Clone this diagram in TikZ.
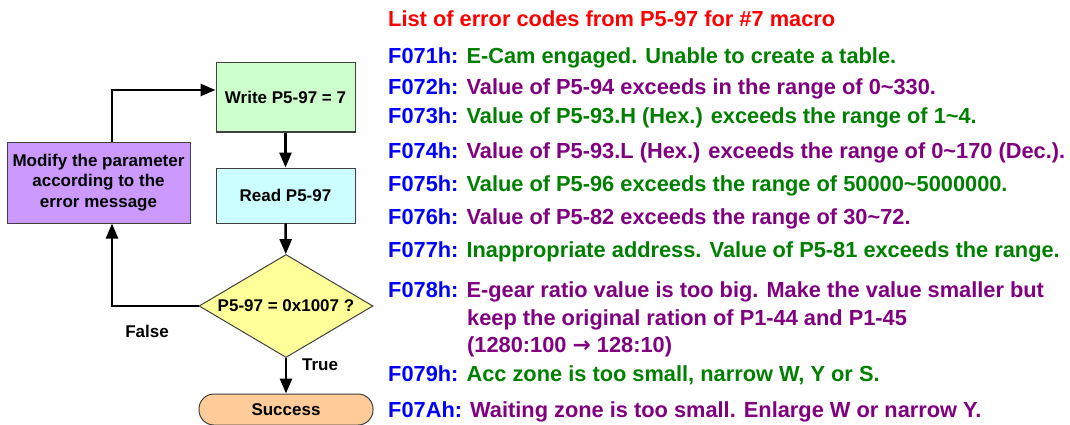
\documentclass[tikz,border=0pt]{standalone}
\usepackage{fontspec}
\setmainfont{Liberation Sans}
\newfontfamily\dejavu{DejaVu Sans}
\usetikzlibrary{arrows.meta,shapes.geometric}
\definecolor{writeg}{HTML}{CCFFCC}
\definecolor{readc}{HTML}{CCFFFF}
\definecolor{modp}{HTML}{CC99FF}
\definecolor{decy}{HTML}{FFFF99}
\definecolor{succo}{HTML}{FFCC99}
\definecolor{codeblue}{HTML}{0000FF}
\definecolor{tgreen}{HTML}{008000}
\definecolor{tpurple}{HTML}{800080}
\definecolor{tred}{HTML}{FF0000}
\definecolor{edge}{HTML}{404040}
\newcommand{\cd}[1]{{\color{codeblue}#1}}
\newcommand{\tg}[1]{{\color{tgreen}#1}}
\newcommand{\tp}[1]{{\color{tpurple}#1}}
\newcommand{\tl}{\textasciitilde}
\tikzset{
  flow/.style={draw=edge, line width=1pt, inner sep=2pt,
    font=\fontsize{17}{20.5}\selectfont\bfseries},
  procbox/.style={flow, rectangle, minimum width=139pt},
  arr/.style={line width=2.6pt, -{Triangle[length=15pt,width=12pt]}},
  lab/.style={font=\fontsize{17}{20}\selectfont\bfseries, inner sep=0pt},
  txt/.style={anchor=base west, inner sep=0pt, font=\fontsize{21.8}{24}\selectfont\bfseries}
}
\begin{document}
\begin{tikzpicture}[x=1pt,y=-1pt]
\useasboundingbox (0,0) rectangle (1070,425);
% flowchart
\node[procbox, fill=writeg, minimum height=69pt] (write) at (285.5,97.5) {Write P5-97 = 7};
\node[procbox, fill=readc, minimum height=55pt] (read) at (285.5,195.5) {Read P5-97};
\node[procbox, fill=modp, minimum width=183pt, minimum height=81pt, align=center] (mod) at (98.5,182.5)
  {Modify the parameter\\according to the\\error message};
\node[flow, diamond, fill=decy, inner sep=0pt, aspect=1.69, minimum width=174pt, minimum height=103pt] (dec) at (286,306) {P5-97 = 0x1007 ?};
\node[flow, rectangle, rounded corners=15pt, fill=succo, minimum width=174pt, minimum height=31pt] (succ) at (286,409.5) {Success};
\node[lab] (truel) at (320,365) {True};
\node[lab] (falsel) at (147,331) {False};
\draw[arr] (write) -- (read);
\draw[arr] (read) -- (dec);
\draw[arr] (dec) -- (succ);
\draw[arr] (dec.west) -| ([xshift=13.5pt]mod.south);
\draw[arr] ([xshift=13.5pt]mod.north) |- ([yshift=7.5pt]write.west);
% error list
\node[txt, text=tred] (t0) at (388,27) {List of error codes from P5-97 for \#7 macro};
\node[txt] (t1) at (388,63.5) {\cd{F071h:} \tg{E-Cam engaged. Unable to create a table.}};
\node[txt] (t2) at (388,94.5) {\cd{F072h:} \tp{Value of P5-94 exceeds in the range of 0\tl330.}};
\node[txt] (t3) at (388,124) {\cd{F073h:} \tg{Value of P5-93.H (Hex.) exceeds the range of 1\tl4.}};
\node[txt] (t4) at (388,158) {\cd{F074h:} \tp{Value of P5-93.L (Hex.) exceeds the range of 0\tl170 (Dec.).}};
\node[txt] (t5) at (388,191.5) {\cd{F075h:} \tg{Value of P5-96 exceeds the range of 50000\tl5000000.}};
\node[txt] (t6) at (388,224.5) {\cd{F076h:} \tp{Value of P5-82 exceeds the range of 30\tl72.}};
\node[txt] (t7) at (388,257.5) {\cd{F077h:} \tg{Inappropriate address. Value of P5-81 exceeds the range.}};
\node[txt] (t8) at (388,297.5) {\cd{F078h:} \tp{E-gear ratio value is too big. Make the value smaller but}};
\node[txt, text=tpurple] (t8b) at (467,325) {keep the original ration of P1-44 and P1-45};
\node[txt, text=tpurple] (t8c) at (467,352) {(1280:100 {\dejavu\bfseries →} 128:10)};
\node[txt] (t9) at (388,381) {\cd{F079h:} \tg{Acc zone is too small, narrow W, Y or S.}};
\node[txt] (t10) at (388,417) {\cd{F07Ah:} \tp{Waiting zone is too small. Enlarge W or narrow Y.}};
\end{tikzpicture}
\end{document}
